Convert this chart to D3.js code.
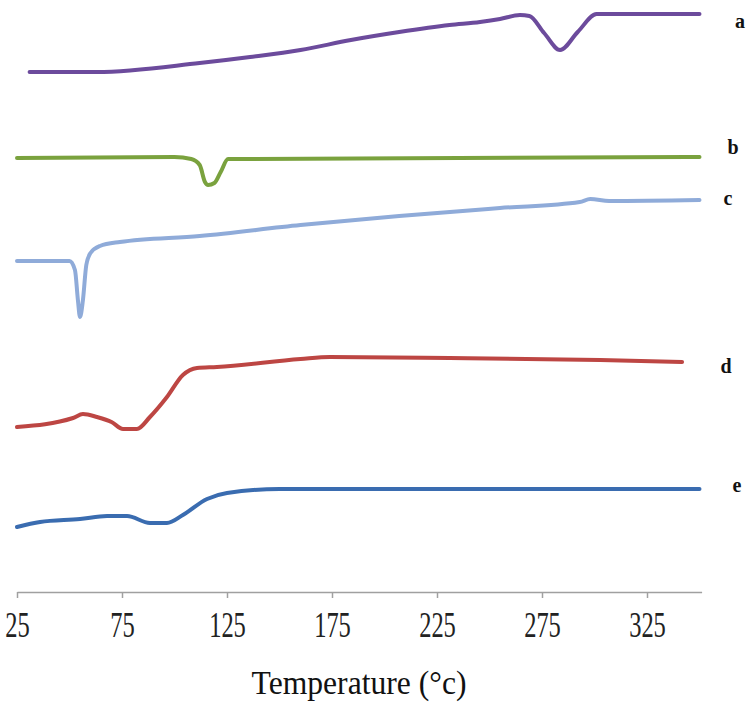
<!DOCTYPE html>
<html>
<head>
<meta charset="utf-8">
<script src="https://cdn.jsdelivr.net/npm/d3@7"></script>
<style>
  body { margin: 0; background: #fff; }
  svg { display: block; }
</style>
</head>
<body>
<div id="chart"></div>
<script>
// DSC curves, heat flow in arbitrary units (each curve offset vertically)
var tempA = [31, 63, 112, 136, 160, 184, 207, 231, 245.5, 255, 264.5, 269, 276, 283.6, 292, 301, 350];
var flowA = [528, 528, 537, 543, 550, 560, 568, 575, 578, 581, 585, 584, 567, 550, 568, 586, 586];

var tempB = [25, 100, 108, 112, 114.5, 116, 119, 122, 125.5, 350];
var flowB = [442, 443, 441, 435, 418, 415, 417, 428, 441, 443];

var tempC = [25, 50, 52.6, 54, 55, 56.4, 58, 60, 64.5, 74, 112, 160, 207, 255, 293, 298, 307, 350];
var flowC = [339, 339, 330, 300, 283, 300, 335, 347, 354, 358, 364, 375, 384, 392, 398, 401, 399, 400];

var tempD = [25, 51.7, 56.4, 63.1, 70, 75.5, 82.1, 88.3, 96.4, 104, 110.7, 120.2, 160, 174, 231, 302.6, 341.7];
var flowD = [173, 182, 186, 183, 178, 171, 171, 183, 203, 225, 232, 233, 241, 243, 242, 240, 238];

var tempE = [25, 36, 55, 67.9, 77.4, 88.3, 96.4, 104, 115.5, 125, 150, 350];
var flowE = [73, 78, 81, 84, 84, 77, 77, 85, 101, 107, 111, 111];

var curveNames = ["a", "b", "c", "d", "e"];
var curveColors = ["#6c4b9c", "#7aa23e", "#8fabd9", "#bd4643", "#3a6cb0"];
var xTicks = [25, 75, 125, 175, 225, 275, 325];

var width = 750, height = 704;

var svg = d3.select("#chart").append("svg")
  .attr("width", width)
  .attr("height", height);

var x = d3.scaleLinear().domain([25, 351]).range([17, 701.6]);
var y = d3.scaleLinear().domain([0, 600]).range([600, 0]);

var series = [
  {temp: tempA, flow: flowA},
  {temp: tempB, flow: flowB},
  {temp: tempC, flow: flowC},
  {temp: tempD, flow: flowD},
  {temp: tempE, flow: flowE}
];

var line = d3.line()
  .x(function(d) { return x(d[0]); })
  .y(function(d) { return y(d[1]); })
  .curve(d3.curveMonotoneX);

series.forEach(function(s, i) {
  var pts = s.temp.map(function(t, j) { return [t, s.flow[j]]; });
  svg.append("path")
    .datum(pts)
    .attr("d", line)
    .attr("fill", "none")
    .attr("stroke", curveColors[i])
    .attr("stroke-width", 4)
    .attr("stroke-linejoin", "round")
    .attr("stroke-linecap", "round");
});

// curve labels at the right edge
var labelPos = [[740, 28], [733, 154], [728, 205], [726, 373], [737, 492]];
svg.selectAll(".lbl")
  .data(curveNames)
  .enter().append("text")
  .attr("class", "lbl")
  .attr("x", function(d, i) { return labelPos[i][0]; })
  .attr("y", function(d, i) { return labelPos[i][1]; })
  .attr("text-anchor", "middle")
  .style("font-family", "'Liberation Serif', 'DejaVu Serif', serif")
  .style("font-weight", "bold")
  .style("font-size", "20px")
  .style("fill", "#111")
  .text(function(d) { return d; });

// x axis
var xAxis = d3.axisBottom(x)
  .tickValues(xTicks)
  .tickSize(6)
  .tickSizeOuter(0)
  .tickPadding(14)
  .tickFormat(d3.format("d"));

var gx = svg.append("g")
  .attr("transform", "translate(0,592)")
  .call(xAxis);

gx.select(".domain").attr("stroke", "#a0a0a0").attr("stroke-width", 1.5);
gx.selectAll(".tick line").attr("stroke", "#a0a0a0").attr("stroke-width", 1.5);
gx.selectAll(".tick text")
  .attr("transform", "scale(0.7,1)")
  .style("font-family", "'Liberation Serif', 'DejaVu Serif', serif")
  .style("font-size", "35px")
  .style("fill", "#222");

svg.append("text")
  .attr("transform", "translate(359,694) scale(0.93,1)")
  .attr("text-anchor", "middle")
  .style("font-family", "'Liberation Serif', 'DejaVu Serif', serif")
  .style("font-size", "34px")
  .style("fill", "#111")
  .text("Temperature (°c)");
</script>
</body>
</html>
